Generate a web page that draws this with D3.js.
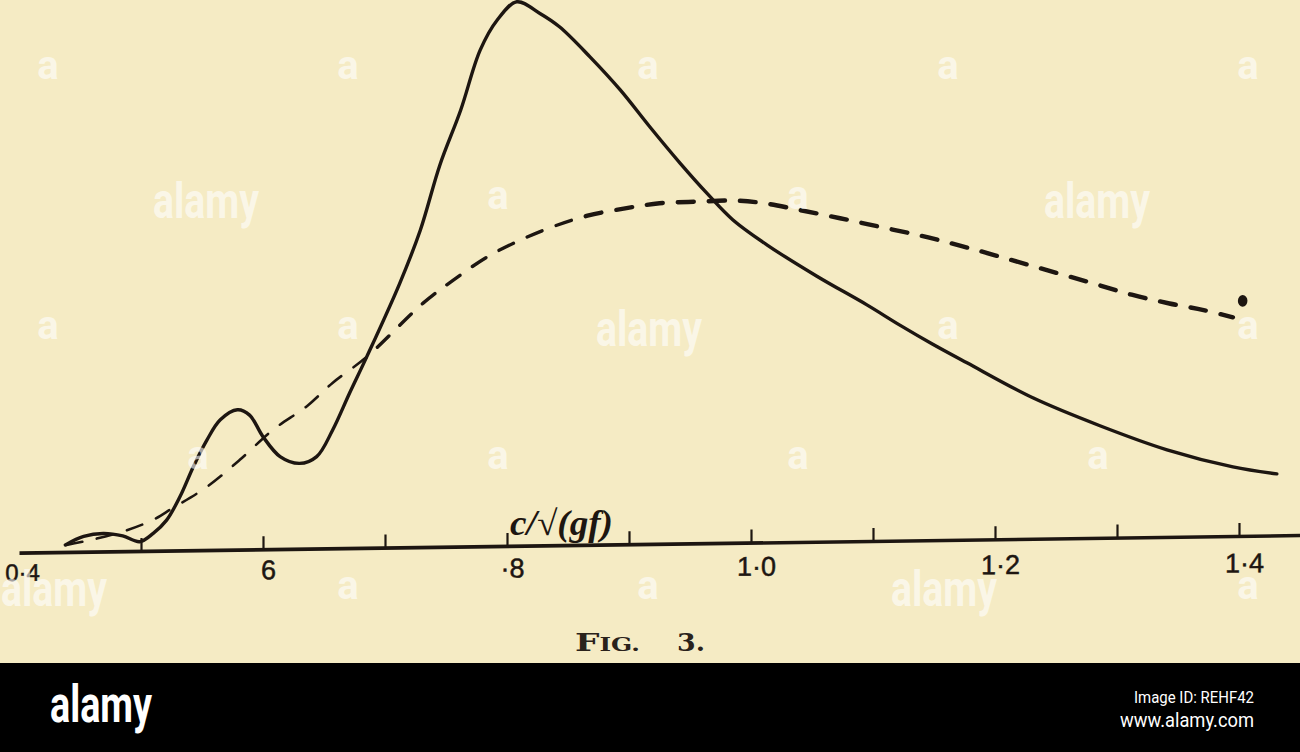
<!DOCTYPE html>
<html>
<head>
<meta charset="utf-8">
<script src="https://cdn.jsdelivr.net/npm/d3@7"></script>
<style>
  html, body { margin: 0; padding: 0; background: #f5ebc4; }
  svg { display: block; }
</style>
</head>
<body>
<svg id="chart" width="1300" height="752"></svg>
<script>
// ---- data (x = c/√(gf), y = relative ordinate, peak of solid curve = 100) ----
const solidX = [0.438,0.453,0.469,0.485,0.499,0.510,0.521,0.532,0.543,0.554,0.565,0.579,0.589,0.600,0.614,0.630,0.644,0.657,0.671,0.685,0.712,0.729,0.745,0.762,0.778,0.792,0.808,0.827,0.843,0.868,0.893,0.917,0.942,0.964,0.985,1.013,1.054,1.095,1.122,1.149,1.177,1.231,1.286,1.341,1.395,1.431];
const solidY = [1.3,2.8,3.3,2.8,1.7,3.2,5.6,9.9,15.4,20.2,23.9,25.7,24.7,20.7,17.0,15.7,16.9,21.7,28.5,35.1,48.5,58.3,70.2,80.2,91.2,96.7,100,97.8,95.3,89.7,83.5,76.7,69.9,64.3,59.4,54.7,48.8,43.4,39.6,36.0,32.5,25.9,20.6,16.0,12.7,11.3];

const dashedX = [0.439,0.458,0.485,0.510,0.526,0.554,0.581,0.608,0.636,0.657,0.685,0.731,0.756,0.784,0.811,0.838,0.866,0.898,0.925,0.956,0.988,1.012,1.040,1.073,1.106,1.139,1.169,1.200,1.237,1.276,1.312,1.343,1.371,1.395];
const dashedY = [1.3,2.1,3.6,5.7,7.8,11.6,16.5,21.9,26.2,30.4,35.1,44.8,49.0,53.2,56.2,58.6,60.5,61.8,62.6,62.8,62.9,62.3,61.0,59.4,57.7,56.0,54.2,52.2,49.7,47.1,44.6,42.9,41.6,40.2];

const dotX = [1.403];
const dotY = [43.2];

const tickValues = [0.5,0.6,0.7,0.8,0.9,1.0,1.1,1.2,1.3,1.4];
const labelValues = [0.4,0.6,0.8,1.0,1.2,1.4];
const labelTexts = ["0·4","6","·8","1·0","1·2","1·4"];
const axisTitle = "c/√(gf)";
const captionWord = ["F","IG."];
const captionNum = "3.";

// watermark layout (page furniture of the scanned source)
const wmSmall = [[48,68],[348,68],[648,68],[948,68],[1248,68],[498,198],[798,198],[48,328],[348,328],[948,328],[1248,328],[198,458],[498,458],[798,458],[1098,458],[348,588],[648,588],[1248,588]];
const wmWord = [[206,218],[1097,218],[649,346],[54,606],[944,606]];

// ---- drawing ----
const svg = d3.select("#chart");
const ink = "#1d1611";
const paper = "#f5ebc4";

svg.append("rect").attr("width",1300).attr("height",752).attr("fill",paper);

const x = d3.scaleLinear().domain([0.4, 1.45]).range([19, 1300]);
const y = d3.scaleLinear().domain([0, 100]).range([552.6, 8.6]);

// the scanned figure is slightly tilted: skew the plotting frame
const plot = svg.append("g")
  .attr("transform","translate(20,552.6) skewY(-0.785) translate(-20,-552.6)");

const defs = svg.append("defs");
const zones = [[0,0.685,2.6],[0.685,0.86,3.4],[0.86,1.5,4.4]];
zones.forEach((z,i)=>{
  defs.append("clipPath").attr("id","zone"+i).append("rect")
    .attr("x",x(z[0])).attr("y",-50).attr("width",x(z[1])-x(z[0])).attr("height",700);
});

const axisG = plot.append("g")
  .attr("transform","translate(0,552.6)")
  .call(d3.axisBottom(x).tickValues(tickValues).tickSize(-13).tickSizeOuter(0).tickFormat(""));
axisG.select(".domain").attr("stroke",ink).attr("stroke-width",3.6);
axisG.selectAll(".tick line").attr("stroke",ink).attr("stroke-width",2.2);

const line = d3.line().x(d => x(d[0])).y(d => y(d[1])).curve(d3.curveCatmullRom.alpha(0.5));
const dashedData = dashedX.map((v,i)=>[v,dashedY[i]]);

zones.forEach((z,i)=>{
  plot.append("path")
    .datum(dashedData)
    .attr("d", line)
    .attr("clip-path","url(#zone"+i+")")
    .attr("fill","none").attr("stroke",ink).attr("stroke-width",z[2])
    .attr("stroke-dasharray","16,15").attr("stroke-linecap","round");
});

plot.append("path")
  .datum(solidX.map((v,i)=>[v,solidY[i]]))
  .attr("d", line)
  .attr("fill","none").attr("stroke",ink).attr("stroke-width",3.4)
  .attr("stroke-linejoin","round").attr("stroke-linecap","round");

plot.selectAll("ellipse.dot").data(dotX.map((v,i)=>[v,dotY[i]])).join("ellipse")
  .attr("class","dot")
  .attr("cx", d=>x(d[0])).attr("cy", d=>y(d[1]))
  .attr("rx",4.8).attr("ry",5.8).attr("fill",ink);

// tick labels
const labG = svg.append("g").attr("transform","translate(0,581) skewY(-0.4)");
labG.call(d3.axisBottom(x).tickValues(labelValues).tickSize(0)
  .tickFormat((d,i)=>labelTexts[i]));
labG.select(".domain").remove();
labG.selectAll(".tick text")
  .attr("y",0).attr("dy",0).attr("dx",d => d === 0.4 ? 3 : 5)
  .attr("fill",ink).attr("stroke",ink).attr("stroke-width",0.5)
  .style("font-family","'Liberation Sans', Arial, sans-serif")
  .style("font-size",d => d === 0.4 ? "24px" : "27px");

// axis title
svg.append("text")
  .attr("x",510).attr("y",535)
  .attr("textLength",103).attr("lengthAdjust","spacingAndGlyphs")
  .attr("fill",ink)
  .style("font-family","'Liberation Serif', 'DejaVu Serif', serif")
  .style("font-style","italic").style("font-weight","bold")
  .style("font-size","35px")
  .text(axisTitle);

// caption
const capFont = "'DejaVu Serif', 'Liberation Serif', serif";
const cap = svg.append("text")
  .attr("x",575).attr("y",651)
  .attr("textLength",65).attr("lengthAdjust","spacingAndGlyphs")
  .attr("fill","#2a221b")
  .style("font-family",capFont).style("font-weight","bold");
cap.append("tspan").style("font-size","25px").text(captionWord[0]);
cap.append("tspan").style("font-size","18px").text(captionWord[1]);
svg.append("text")
  .attr("x",677).attr("y",651)
  .attr("textLength",28).attr("lengthAdjust","spacingAndGlyphs")
  .attr("fill","#2a221b")
  .style("font-family",capFont).style("font-weight","bold").style("font-size","25px")
  .text(captionNum);

// watermarks
const wmFont = "'Liberation Sans Narrow', 'Roboto', 'Liberation Sans', sans-serif";
svg.append("g").selectAll("text").data(wmSmall).join("text")
  .attr("x",d=>d[0]).attr("y",d=>d[1]+11)
  .attr("text-anchor","middle")
  .attr("fill","#ffffff").attr("fill-opacity",0.6)
  .style("font-family",wmFont).style("font-weight","bold").style("font-size","40px")
  .text("a");
svg.append("g").selectAll("text").data(wmWord).join("text")
  .attr("x",d=>d[0]).attr("y",d=>d[1])
  .attr("text-anchor","middle")
  .attr("textLength",106).attr("lengthAdjust","spacingAndGlyphs")
  .attr("fill","#ffffff").attr("fill-opacity",0.6)
  .style("font-family",wmFont).style("font-weight","bold").style("font-size","50px")
  .text("alamy");

// bottom banner
svg.append("rect").attr("x",0).attr("y",663).attr("width",1300).attr("height",89).attr("fill","#000");
svg.append("text").attr("x",50).attr("y",722)
  .attr("textLength",102).attr("lengthAdjust","spacingAndGlyphs")
  .attr("fill","#fff")
  .style("font-family",wmFont).style("font-weight","bold").style("font-size","52px")
  .text("alamy");
svg.append("text").attr("x",1254).attr("y",703).attr("text-anchor","end")
  .attr("textLength",120).attr("lengthAdjust","spacingAndGlyphs")
  .attr("fill","#fff")
  .style("font-family",wmFont).style("font-size","17px")
  .text("Image ID: REHF42");
svg.append("text").attr("x",1254).attr("y",727).attr("text-anchor","end")
  .attr("textLength",134).attr("lengthAdjust","spacingAndGlyphs")
  .attr("fill","#fff")
  .style("font-family",wmFont).style("font-size","20px")
  .text("www.alamy.com");
</script>
</body>
</html>
